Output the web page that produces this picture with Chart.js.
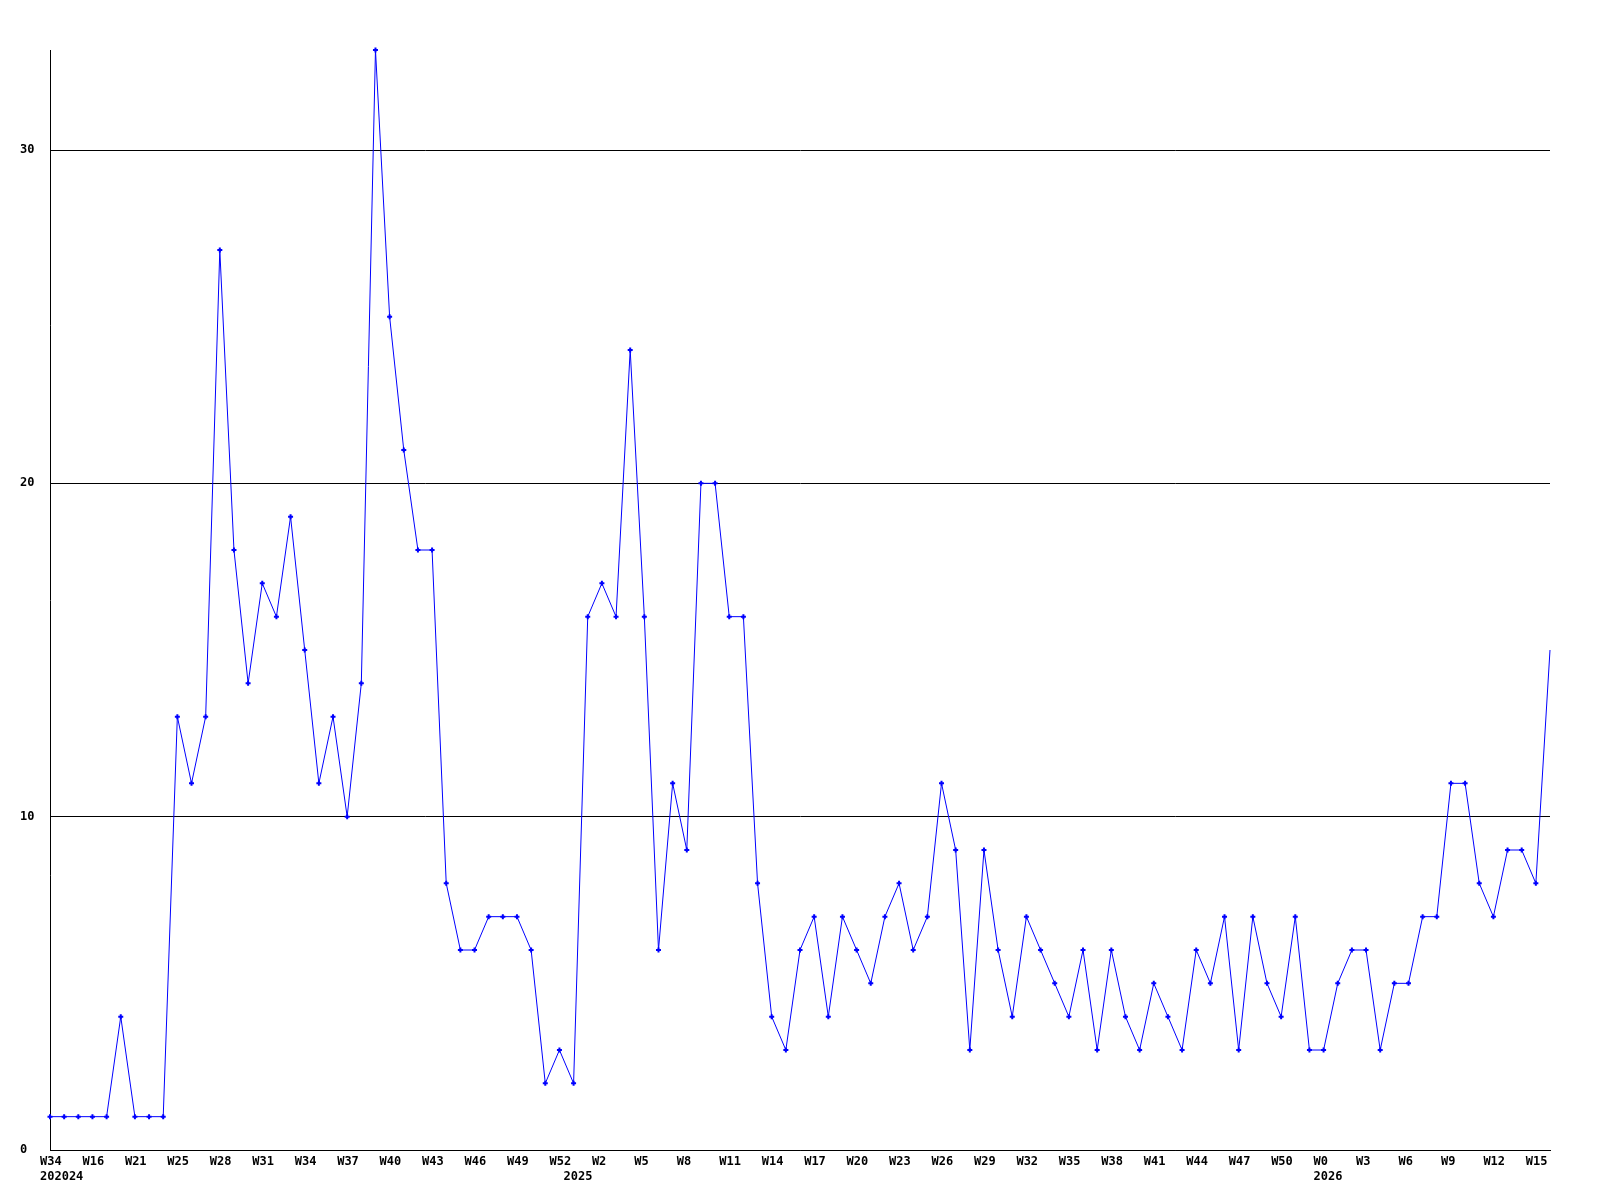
<!DOCTYPE html>
<html>
<head>
<meta charset="utf-8">
<script src="https://cdn.jsdelivr.net/npm/chart.js@4"></script>
<style>
  body { margin: 0; background: #fff; }
  #wrap { width: 1600px; height: 1200px; }
</style>
</head>
<body>
<div id="wrap"><canvas id="chart1" width="1600" height="1200"></canvas></div>
<script>
// weekly counts, 107 weeks
const weekValues = [
  1, 1, 1, 1, 1, 4, 1, 1, 1, 13,
  11, 13, 27, 18, 14, 17, 16, 19, 15, 11,
  13, 10, 14, 33, 25, 21, 18, 18, 8, 6,
  6, 7, 7, 7, 6, 2, 3, 2, 16, 17,
  16, 24, 16, 6, 11, 9, 20, 20, 16, 16,
  8, 4, 3, 6, 7, 4, 7, 6, 5, 7,
  8, 6, 7, 11, 9, 3, 9, 6, 4, 7,
  6, 5, 4, 6, 3, 6, 4, 3, 5, 4,
  3, 6, 5, 7, 3, 7, 5, 4, 7, 3,
  3, 5, 6, 6, 3, 5, 5, 7, 7, 11,
  11, 8, 7, 9, 9, 8, 15
];

// one label every 3rd week
const weekTicks = ['W34', 'W16', 'W21', 'W25', 'W28', 'W31', 'W34', 'W37', 'W40', 'W43',
  'W46', 'W49', 'W52', 'W2', 'W5', 'W8', 'W11', 'W14', 'W17', 'W20', 'W23', 'W26',
  'W29', 'W32', 'W35', 'W38', 'W41', 'W44', 'W47', 'W50', 'W0', 'W3', 'W6', 'W9', 'W12', 'W15'];
const yearIndex = [0, 37, 90];
const yearTicks = ['202024', '2025', '2026'];
const yTicks = [0, 10, 20, 30];

const labels1 = weekValues.map(function(v, i) {
  const w = (i % 3 === 0) ? weekTicks[i / 3] : '';
  const k = yearIndex.indexOf(i);
  return k >= 0 ? [w, yearTicks[k]] : w;
});

const tickFont = { family: 'DejaVu Sans Mono', size: 12, weight: 'bold', lineHeight: 1.25 };

const ctx1 = document.getElementById('chart1').getContext('2d');
const chart1 = new Chart(ctx1, {
    type: 'line',
    data: {
        labels: labels1,
        datasets: [{
            data: weekValues,
            borderColor: '#0000ff',
            borderWidth: 1,
            tension: 0,
            pointStyle: 'cross',
            pointRadius: function(c) { return c.dataIndex === weekValues.length - 1 ? 0 : 2.5; },
            pointBorderWidth: 2,
            pointBorderColor: '#0000ff',
            pointBackgroundColor: '#0000ff',
            clip: false
        }]
    },
    options: {
        responsive: false,
        animation: false,
        layout: { padding: { left: 20, right: 50, top: 50, bottom: 0 } },
        plugins: {
            legend: { display: false },
            tooltip: { enabled: false }
        },
        scales: {
            x: {
                grid: { display: false, drawTicks: false },
                border: { display: true, color: '#000', width: 1 },
                ticks: {
                    autoSkip: false,
                    maxRotation: 0,
                    minRotation: 0,
                    align: 'start',
                    labelOffset: -10,
                    padding: 4,
                    color: '#000',
                    font: tickFont
                },
                afterFit: function(scale) { scale.height = 50; }
            },
            y: {
                min: 0,
                max: 33,
                grid: { color: '#000', lineWidth: 1, drawTicks: false },
                border: { display: true, color: '#000', width: 1 },
                ticks: {
                    crossAlign: 'far',
                    color: '#000',
                    font: tickFont
                },
                afterBuildTicks: function(scale) {
                    scale.ticks = yTicks.map(function(v) { return { value: v }; });
                },
                afterFit: function(scale) { scale.width = 30; }
            }
        }
    }
});
</script>
</body>
</html>
